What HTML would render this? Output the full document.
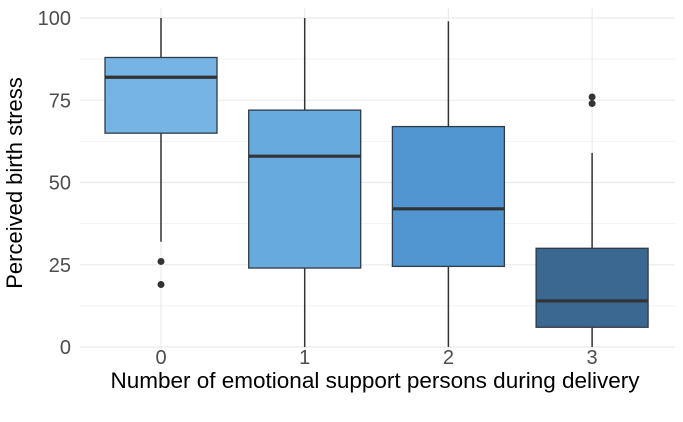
<!DOCTYPE html>
<html><head><meta charset="utf-8"><style>
body{margin:0;background:#fff;}
svg{display:block;font-family:"Liberation Sans",sans-serif;}
</style></head><body>
<svg id="chart" width="683" height="422"></svg>
<script>
const categories=["0","1","2","3"];
const whiskerLow=[32,0,0,0];
const q1=[65,24,24.5,6];
const medians=[82,58,42,14];
const q3=[88,72,67,30];
const whiskerHigh=[100,100,99,59];
const outliers=[[26,19],[],[],[74,76]];
const fills=["#75b4e4","#66aade","#5196d0","#3a6891"];
const yTicks=[0,25,50,75,100];

const NS="http://www.w3.org/2000/svg";
const svg=document.getElementById('chart');
const X0=80,X1=675;
function xS(i){return 161+i*143.7;}
function yS(v){return 347-v*3.29;}
function mk(tag,attrs,parent){const e=document.createElementNS(NS,tag);for(const k in attrs)e.setAttribute(k,attrs[k]);(parent||svg).appendChild(e);return e;}

for(let i=0;i<yTicks.length-1;i++){
  const v=(yTicks[i]+yTicks[i+1])/2;
  const g=mk('line',{x1:X0,x2:X1,y1:yS(v),y2:yS(v),stroke:'#f2f2f2','stroke-width':1});
  
  
}
yTicks.forEach(v=>{
  const g=mk('line',{x1:X0,x2:X1,y1:yS(v),y2:yS(v),stroke:'#ebebeb','stroke-width':1.2});
  
  
  const t=mk('text',{x:71,y:yS(v)+7,'text-anchor':'end','font-size':20,fill:'#4d4d4d'});
  t.textContent=v;
  
  
});
categories.forEach((c,i)=>{
  const g=mk('line',{x1:xS(i),x2:xS(i),y1:8,y2:352,stroke:'#ebebeb','stroke-width':1.2});
  
  
});
categories.forEach((c,i)=>{
  const x=xS(i),w=112;
  const grp=mk('g',{});
  
  
  mk('line',{x1:x,x2:x,y1:yS(whiskerLow[i]),y2:yS(q1[i]),stroke:'#333','stroke-width':1.5},grp);
  mk('line',{x1:x,x2:x,y1:yS(q3[i]),y2:yS(whiskerHigh[i]),stroke:'#333','stroke-width':1.5},grp);
  mk('rect',{x:x-w/2,y:yS(q3[i]),width:w,height:yS(q1[i])-yS(q3[i]),fill:fills[i],stroke:'#2f3b47','stroke-width':1.3},grp);
  mk('line',{x1:x-w/2,x2:x+w/2,y1:yS(medians[i]),y2:yS(medians[i]),stroke:'#333','stroke-width':3.2},grp);
  outliers[i].forEach(o=>{
    const p=mk('circle',{cx:x,cy:yS(o),r:3.5,fill:'#333'},grp);
    
    
  });
  const t=mk('text',{x:x,y:364,'text-anchor':'middle','font-size':20,fill:'#4d4d4d'});
  t.textContent=c;
  
  
});
const xt=mk('text',{x:375,y:388,'text-anchor':'middle','font-size':22.5,fill:'#000'});
xt.textContent='Number of emotional support persons during delivery';


const yt=mk('text',{x:0,y:0,'text-anchor':'middle','font-size':22,fill:'#000',transform:'translate(22,183) rotate(-90)'});
yt.textContent='Perceived birth stress';


</script>
</body></html>
